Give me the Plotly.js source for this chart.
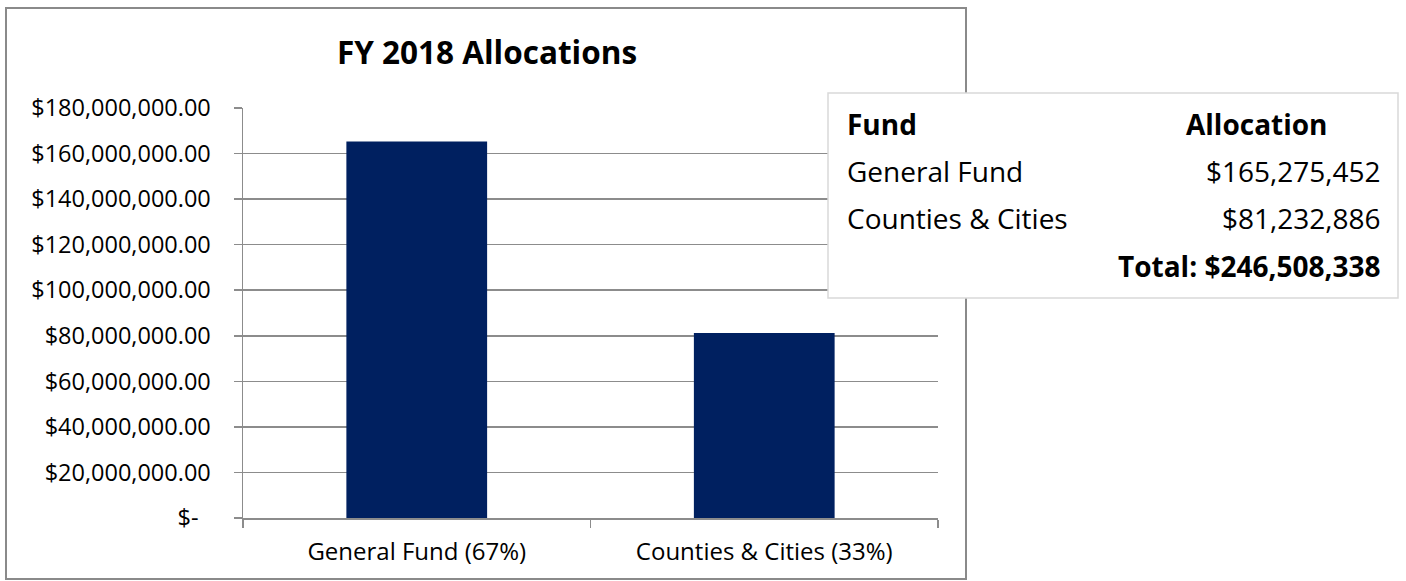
<!DOCTYPE html>
<html>
<head>
<meta charset="utf-8">
<script src="https://cdn.plot.ly/plotly-3.0.1.min.js"></script>
<style>html,body{margin:0;padding:0;background:#fff;}#chart{width:1406px;height:581px;}</style>
</head>
<body>
<div id="chart"></div>
<script>
// ---- data ----
const categories = ["General Fund (67%)", "Counties & Cities (33%)"];
const allocations = [165275452, 81232886];
const yTickVals = [0, 20000000, 40000000, 60000000, 80000000, 100000000, 120000000, 140000000, 160000000, 180000000];
const yTickText = ["$-\u00a0\u00a0", "$20,000,000.00", "$40,000,000.00", "$60,000,000.00", "$80,000,000.00", "$100,000,000.00", "$120,000,000.00", "$140,000,000.00", "$160,000,000.00", "$180,000,000.00"];
const tableHeader = ["Fund", "Allocation"];
const tableFunds = ["General Fund", "Counties & Cities"];
const tableValues = ["$165,275,452", "$81,232,886"];
const tableTotal = "Total: $246,508,338";
const chartTitle = "FY 2018 Allocations";

// ---- layout helpers (pixel -> paper) ----
const W = 1406, H = 581;
const px = x => x / W;
const py = y => 1 - y / H;

const FONT = "Open Sans, Noto Sans, sans-serif";
const GRID = "#8c8c8c";

const trace = {
  type: "bar",
  x: categories,
  y: allocations,
  marker: {color: "#002060", line: {width: 0}},
  hoverinfo: "skip"
};

const annotations = [
  {text: "<b>" + tableHeader[0] + "</b>", x: px(845), y: py(124), xanchor: "left", yanchor: "middle"},
  {text: "<b>" + tableHeader[1] + "</b>", x: px(1330), y: py(124), xanchor: "right", yanchor: "middle"},
  {text: tableFunds[0], x: px(845), y: py(171), xanchor: "left", yanchor: "middle"},
  {text: tableValues[0], x: px(1383), y: py(171), xanchor: "right", yanchor: "middle"},
  {text: tableFunds[1], x: px(845), y: py(218), xanchor: "left", yanchor: "middle"},
  {text: tableValues[1], x: px(1383), y: py(218), xanchor: "right", yanchor: "middle"},
  {text: "<b>" + tableTotal + "</b>", x: px(1383), y: py(266), xanchor: "right", yanchor: "middle"}
].map(a => Object.assign({xref: "paper", yref: "paper", showarrow: false, font: {family: FONT, size: 28, color: "#000"}}, a));

const layout = {
  width: W, height: H,
  margin: {l: 0, r: 0, t: 0, b: 0},
  paper_bgcolor: "#fff",
  plot_bgcolor: "#fff",
  showlegend: false,
  bargap: 0.595,
  title: {
    text: "<b>" + chartTitle + "</b>",
    x: px(487), xanchor: "center",
    y: py(53), yanchor: "middle",
    xref: "paper", yref: "paper",
    font: {family: FONT, size: 31.5, color: "#000"}
  },
  xaxis: {
    domain: [px(243), px(938)],
    type: "category",
    showline: true, linecolor: GRID, linewidth: 1.5,
    ticks: "outside", tickson: "boundaries", ticklen: 8, tickcolor: GRID, tickwidth: 1.5,
    showgrid: false,
    tickfont: {family: FONT, size: 24, color: "#000"},
    ticklabelstandoff: 12,
    fixedrange: true
  },
  yaxis: {
    domain: [py(518), py(108)],
    range: [0, 180000000],
    tickvals: yTickVals,
    ticktext: yTickText,
    showline: true, linecolor: GRID, linewidth: 1.5,
    ticks: "outside", ticklen: 8, tickcolor: GRID, tickwidth: 1.5,
    showgrid: true, gridcolor: GRID, gridwidth: 1.5,
    zeroline: false,
    tickfont: {family: FONT, size: 23.5, color: "#000"},
    ticklabelstandoff: 18,
    fixedrange: true
  },
  shapes: [
    {type: "rect", xref: "paper", yref: "paper", x0: px(6), x1: px(966), y0: py(579), y1: py(8),
     line: {color: "#8a8a8a", width: 2}, fillcolor: "rgba(0,0,0,0)", layer: "above"},
    {type: "rect", xref: "paper", yref: "paper", x0: px(828), x1: px(1398), y0: py(298), y1: py(93),
     line: {color: "#d9d9d9", width: 1.5}, fillcolor: "#ffffff", layer: "above"}
  ],
  annotations: annotations
};

Plotly.newPlot("chart", [trace], layout, {displayModeBar: false, staticPlot: true});
</script>
</body>
</html>
